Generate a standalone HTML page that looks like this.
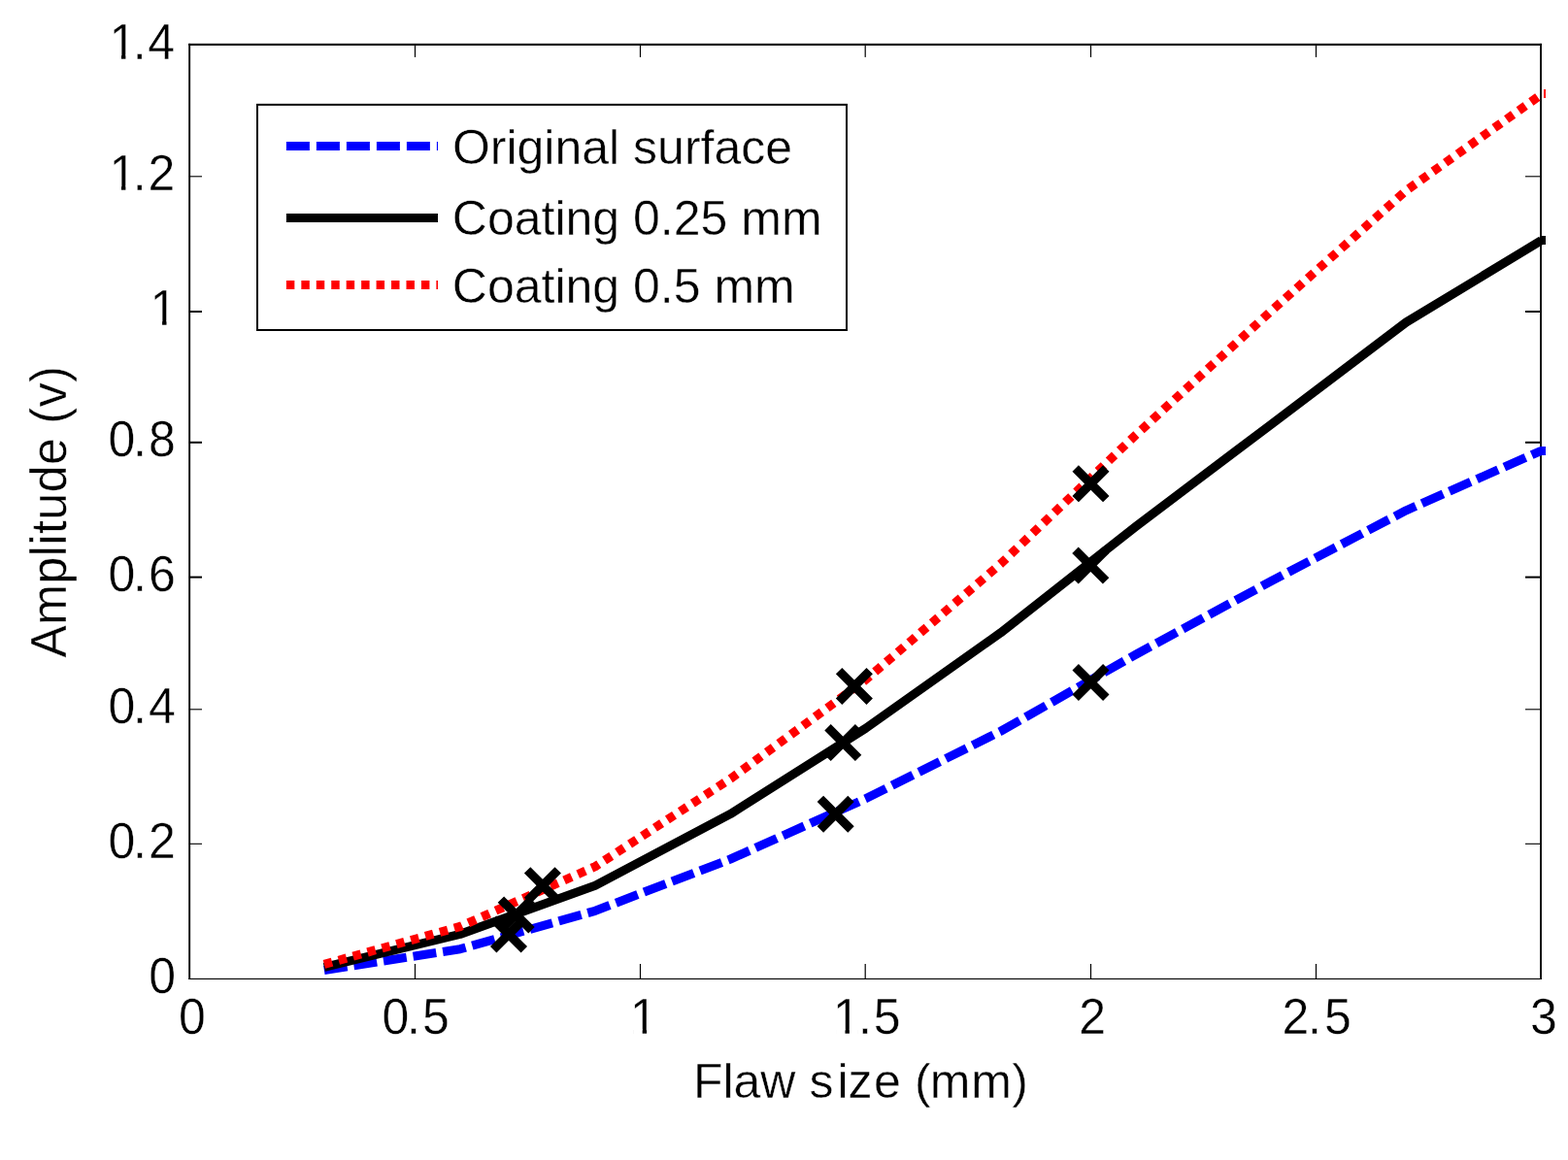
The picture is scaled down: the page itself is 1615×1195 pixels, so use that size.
<!DOCTYPE html>
<html lang="en"><head><meta charset="utf-8"><title>Amplitude vs flaw size</title>
<style>
html,body{margin:0;padding:0;background:#fff;}
body{width:1615px;height:1195px;overflow:hidden;}
svg{display:block;}
text{font-family:"Liberation Sans",sans-serif;font-size:50px;fill:#000;stroke:#fff;stroke-width:0.4px;paint-order:fill stroke;}
</style></head><body>
<svg width="1615" height="1195" viewBox="0 0 1615 1195" role="img" aria-label="Amplitude versus flaw size">
<rect x="0" y="0" width="1615" height="1195" fill="#fff"/>
<g fill="#000">
<rect x="194.2" y="44.85" width="1393.7" height="2.1"/>
<rect x="1586.1" y="44.85" width="1.85" height="964.1"/>
<rect x="194.2" y="44.85" width="1.9" height="964.1"/>
<rect x="194.2" y="1007.9" width="1393.7" height="1.1"/>
<rect x="426.9" y="993" width="1.2" height="15"/>
<rect x="426.9" y="46.9" width="1.2" height="12"/>
<rect x="658.9" y="993" width="1.2" height="15"/>
<rect x="658.9" y="46.9" width="1.2" height="12"/>
<rect x="890.6" y="993" width="1.2" height="15"/>
<rect x="890.6" y="46.9" width="1.2" height="12"/>
<rect x="1122.9" y="993" width="1.2" height="15"/>
<rect x="1122.9" y="46.9" width="1.2" height="12"/>
<rect x="1354.9" y="993" width="1.2" height="15"/>
<rect x="1354.9" y="46.9" width="1.2" height="12"/>
<rect x="196" y="868.75" width="12" height="1.1"/>
<rect x="1571" y="868.75" width="15.2" height="1.1"/>
<rect x="196" y="730.25" width="12" height="1.1"/>
<rect x="1571" y="730.25" width="15.2" height="1.1"/>
<rect x="196" y="593.60" width="12" height="2.0"/>
<rect x="1571" y="593.60" width="15.2" height="2.0"/>
<rect x="196" y="454.80" width="12" height="2.0"/>
<rect x="1571" y="454.80" width="15.2" height="2.0"/>
<rect x="196" y="320.00" width="12" height="2.0"/>
<rect x="1571" y="320.00" width="15.2" height="2.0"/>
<rect x="196" y="181.25" width="12" height="1.1"/>
<rect x="1571" y="181.25" width="15.2" height="1.1"/>
</g>
<g fill="none" stroke-width="9.1" stroke-linejoin="round">
<polyline points="333.9,999.5 473.9,977.7 613.1,938.3 752.3,885.0 891.5,822.8 1030.7,753.3 1169.9,674.2 1309.1,598.8 1448.3,525.8 1587.5,464.3" stroke="#0000ff" stroke-dasharray="24 6.92"/>
<polyline points="333.9,996.4 473.9,962.4 613.1,912.2 752.3,838.6 891.5,750.4 1030.7,651.8 1169.9,542.3 1309.1,437.3 1448.3,332.0 1587.5,247.7" stroke="#000"/>
<polyline points="333.9,993.4 473.9,954.5 613.1,892.6 752.3,802.3 891.5,700.4 1030.7,580.8 1169.9,448.0 1309.1,320.5 1448.3,196.3 1587.5,97.4" stroke="#ff0000" stroke-dasharray="8.45 7"/>
</g>
<g shape-rendering="crispEdges">
<rect x="1586" y="243.3" width="6" height="8.8" fill="#000"/>
<rect x="1586" y="459.9" width="6" height="8.8" fill="#0000ff"/>
<rect x="1590.4" y="92.2" width="1.1" height="9" fill="#ff0000"/>
</g>
<g stroke="#000" stroke-width="9.1" fill="none">
<path d="M508.2 946.7L539.8 978.3M508.2 978.3L539.8 946.7"/>
<path d="M515.9 926.6L547.5 958.2M515.9 958.2L547.5 926.6"/>
<path d="M543.1 896.4L574.7 928.0M543.1 928.0L574.7 896.4"/>
<path d="M844.9 822.9L876.5 854.5M844.9 854.5L876.5 822.9"/>
<path d="M852.5 749.3L884.1 780.9M852.5 780.9L884.1 749.3"/>
<path d="M864.1 691.1L895.7 722.7M864.1 722.7L895.7 691.1"/>
<path d="M1107.7 687.2L1139.3 718.8M1107.7 718.8L1139.3 687.2"/>
<path d="M1107.5 566.8L1139.1 598.4M1107.5 598.4L1139.1 566.8"/>
<path d="M1107.7 482.5L1139.3 514.1M1107.7 514.1L1139.3 482.5"/>
</g>
<rect x="265" y="107.85" width="607" height="232.15" fill="#fff" stroke="#000" stroke-width="2"/>
<g fill="none" stroke-width="9.0">
<line x1="294.9" y1="150.4" x2="451" y2="150.4" stroke="#0000ff" stroke-dasharray="24 7"/>
<line x1="294.9" y1="224.4" x2="451" y2="224.4" stroke="#000"/>
<line x1="294.9" y1="293.5" x2="451" y2="293.5" stroke="#ff0000" stroke-dasharray="8.45 7"/>
</g>
<text x="465.9" y="168.6" text-anchor="start">Original surface</text>
<text x="465.8" y="241.8" text-anchor="start">Coating 0.25 mm</text>
<text x="465.8" y="312.0" text-anchor="start">Coating 0.5 mm</text>
<text transform="translate(0 1022.6) scale(1 1.04)" x="153.30" y="0">0</text>
<text transform="translate(0 883.7) scale(1 1.04)" x="111.40 137.01 152.92" y="0">0.2</text>
<text transform="translate(0 744.8) scale(1 1.04)" x="111.40 137.01 152.92" y="0">0.4</text>
<text transform="translate(0 609.2) scale(1 1.04)" x="111.40 137.01 152.92" y="0">0.6</text>
<text transform="translate(0 470.0) scale(1 1.04)" x="111.40 137.01 152.92" y="0">0.8</text>
<text transform="translate(0 334.85) scale(1 1.04)" x="154.50" y="0">1</text>
<text transform="translate(0 195.8) scale(1 1.04)" x="112.40 136.81 152.42" y="0">1.2</text>
<text transform="translate(0 60.8) scale(1 1.04)" x="112.40 136.81 152.32" y="0">1.4</text>
<text transform="translate(0 1064.6) scale(1 1.04)" x="184.10" y="0">0</text>
<text transform="translate(0 1064.6) scale(1 1.04)" x="393.45 419.06 434.97" y="0">0.5</text>
<text transform="translate(0 1064.6) scale(1 1.04)" x="649.10" y="0">1</text>
<text transform="translate(0 1064.6) scale(1 1.04)" x="857.90 883.91 899.82" y="0">1.5</text>
<text transform="translate(0 1064.6) scale(1 1.04)" x="1111.30" y="0">2</text>
<text transform="translate(0 1064.6) scale(1 1.04)" x="1320.40 1346.91 1363.92" y="0">2.5</text>
<text transform="translate(0 1064.6) scale(1 1.04)" x="1575.90" y="0">3</text>
<text x="713.96 744.49 755.60 783.21 819.52 833.41 862.41 873.42 899.92 927.92 941.93 957.87 1000.22 1042.26" y="1130.7">Flaw size (mm)</text>
<text transform="translate(68.4 527.3) rotate(-90) scale(1 1.02)" text-anchor="middle" textLength="300.4" lengthAdjust="spacing">Amplitude (v)</text>
<rect x="157.70" y="330.55" width="9.37" height="5.00" fill="#fff"/>
<rect x="171.49" y="330.55" width="9.00" height="5.00" fill="#fff"/>
<rect x="115.60" y="191.50" width="9.37" height="5.00" fill="#fff"/>
<rect x="129.39" y="191.50" width="9.00" height="5.00" fill="#fff"/>
<rect x="115.60" y="56.50" width="9.37" height="5.00" fill="#fff"/>
<rect x="129.39" y="56.50" width="9.00" height="5.00" fill="#fff"/>
<rect x="652.30" y="1060.30" width="9.37" height="5.00" fill="#fff"/>
<rect x="666.09" y="1060.30" width="9.00" height="5.00" fill="#fff"/>
<rect x="861.10" y="1060.30" width="9.37" height="5.00" fill="#fff"/>
<rect x="874.89" y="1060.30" width="9.00" height="5.00" fill="#fff"/>
</svg>
</body></html>
